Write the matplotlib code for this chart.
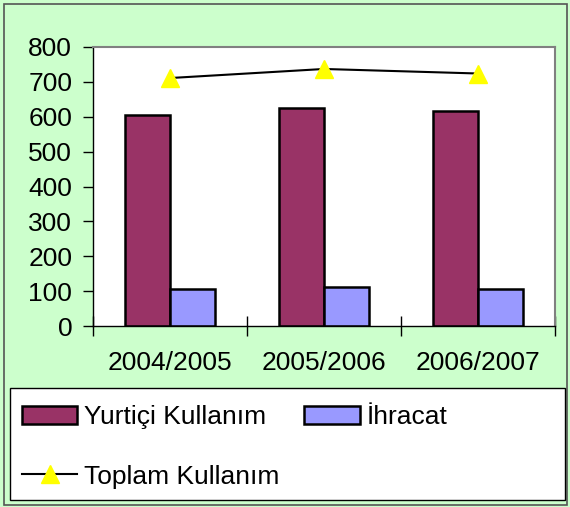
import numpy as np
import matplotlib.pyplot as plt
from matplotlib.patches import Rectangle

plt.rcParams['font.family'] = ['Liberation Sans', 'DejaVu Sans']

yillar = ["2004/2005", "2005/2006", "2006/2007"]
yurtici = [605, 626, 616]
ihracat = [105, 112, 107]
toplam = [711, 737, 724]

fig = plt.figure(figsize=(5.7, 5.07), dpi=100, facecolor="#CCFFCC")
# dis cerceve
fig.patches.append(Rectangle((4/570, 2/507), 563/570, 501/507, transform=fig.transFigure,
                             fill=False, edgecolor="#555555", linewidth=1.2))
# lejant kutusu
fig.patches.append(Rectangle((10/570, 7/507), 555/570, 112/507, transform=fig.transFigure,
                             facecolor="white", edgecolor="black", linewidth=1))

ax = fig.add_axes([93/570, 181/507, 462/570, 279/507])
ax.set_facecolor("white")

x = np.arange(len(yillar))
w = 0.29
ax.bar(x - w/2, yurtici, w, color="#993366", edgecolor="black", linewidth=1.8, label="Yurtiçi Kullanım")
ax.bar(x + w/2, ihracat, w, color="#9999FF", edgecolor="black", linewidth=1.8, label="İhracat")
ax.plot(x, toplam, color="black", linewidth=1.5, marker="^", markersize=13,
        markerfacecolor="#FFFF00", markeredgecolor="#FFFF00", label="Toplam Kullanım")

ax.set_xlim(-0.5, 2.5)
ax.set_ylim(0, 800)
ax.set_yticks(range(0, 801, 100))
ax.tick_params(axis="y", labelsize=19, direction="out", length=7, width=1, pad=8)
ax.set_xticks(x)
ax.set_xticklabels(yillar)
ax.tick_params(axis="x", labelsize=19, length=0, pad=18)
ax.set_xticks([-0.5, 0.5, 1.5, 2.5], minor=True)
ax.tick_params(axis="x", which="minor", direction="inout", length=14, width=1)

for s in ["top", "right"]:
    ax.spines[s].set_color("#808080")
    ax.spines[s].set_linewidth(1.5)
for s in ["left", "bottom"]:
    ax.spines[s].set_color("black")
    ax.spines[s].set_linewidth(1)

h, l = ax.get_legend_handles_labels()
# sira: satir bazli gorunsun diye
order = [1, 0, 2]
leg = fig.legend([h[i] for i in order], [l[i] for i in order], ncol=2,
                 loc="upper left", bbox_to_anchor=(22/570, (507-405)/507),
                 fontsize=19, frameon=False,
                 handlelength=2.1, handleheight=0.7, handletextpad=0.25,
                 labelspacing=1.35, borderaxespad=0, borderpad=0,
                 columnspacing=0.95)

fig.savefig("out.png", dpi=100, facecolor=fig.get_facecolor())
